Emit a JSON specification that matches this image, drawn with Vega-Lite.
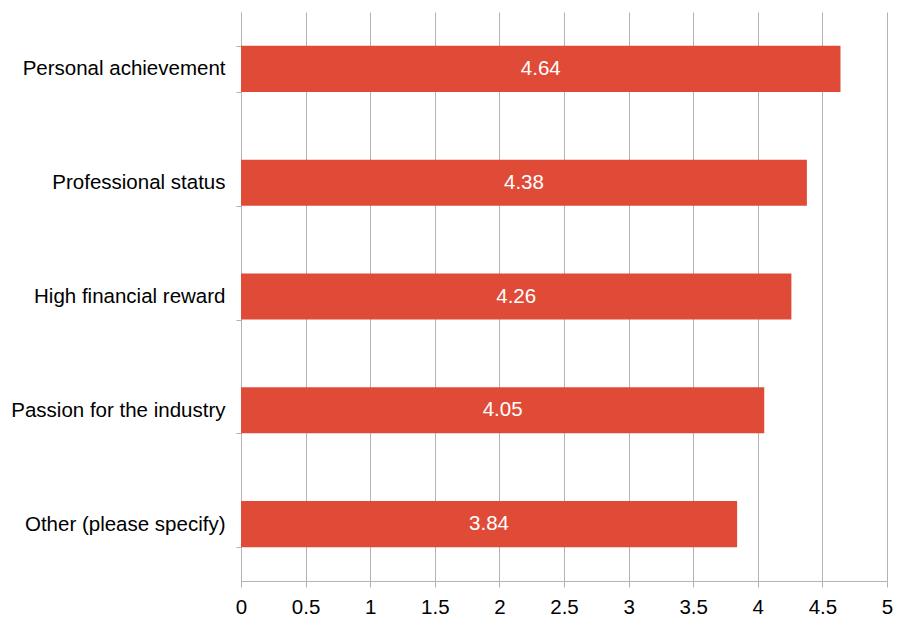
{
  "$schema": "https://vega.github.io/schema/vega-lite/v6.json",
  "width": 646,
  "height": 569,
  "autosize": {"type": "none"},
  "padding": {"left": 241, "top": 12, "right": 17, "bottom": 36},
  "background": "white",
  "config": {
    "view": {"stroke": null},
    "font": "Liberation Sans"
  },
  "data": {
    "values": [
      {"category": "Personal achievement ", "value": 4.64},
      {"category": "Professional status", "value": 4.38},
      {"category": "High financial reward", "value": 4.26},
      {"category": "Passion for the industry", "value": 4.05},
      {"category": "Other (please specify)", "value": 3.84}
    ]
  },
  "encoding": {
    "y": {
      "field": "category",
      "type": "nominal",
      "sort": null,
      "title": null,
      "scale": {"paddingInner": 0.595, "paddingOuter": 0.2975},
      "axis": {
        "tickBand": "extent",
        "tickSize": 5,
        "tickColor": "#b3b3b3",
        "domainColor": "#b3b3b3",
        "labelFontSize": 20.5,
        "labelColor": "#000000",
        "labelPadding": 11,
        "labelLimit": 400,
        "labelFont": "Liberation Sans",
        "grid": false,
        "encode": {
          "labels": {
            "update": {
              "dx": {"signal": "datum.value === 'Personal achievement ' ? -5 : 0"}
            }
          }
        }
      }
    }
  },
  "layer": [
    {
      "mark": {"type": "bar", "color": "#E04B38"},
      "encoding": {
        "x": {
          "field": "value",
          "type": "quantitative",
          "title": null,
          "scale": {"domain": [0, 5], "nice": false},
          "axis": {
            "values": [0, 0.5, 1, 1.5, 2, 2.5, 3, 3.5, 4, 4.5, 5],
            "format": "~g",
            "tickSize": 6,
            "tickColor": "#b3b3b3",
            "domainColor": "#b3b3b3",
            "gridColor": "#b3b3b3",
            "grid": true,
            "labelFontSize": 20.5,
            "labelColor": "#000000",
            "labelPadding": 10,
            "labelFont": "Liberation Sans",
            "labelFlush": false
          }
        }
      }
    },
    {
      "transform": [{"calculate": "datum.value / 2", "as": "mid"}],
      "mark": {"type": "text", "color": "white", "fontSize": 20.5, "font": "Liberation Sans", "align": "center", "baseline": "middle"},
      "encoding": {
        "x": {"field": "mid", "type": "quantitative"},
        "text": {"field": "value", "type": "quantitative", "format": ".2f"}
      }
    }
  ]
}
